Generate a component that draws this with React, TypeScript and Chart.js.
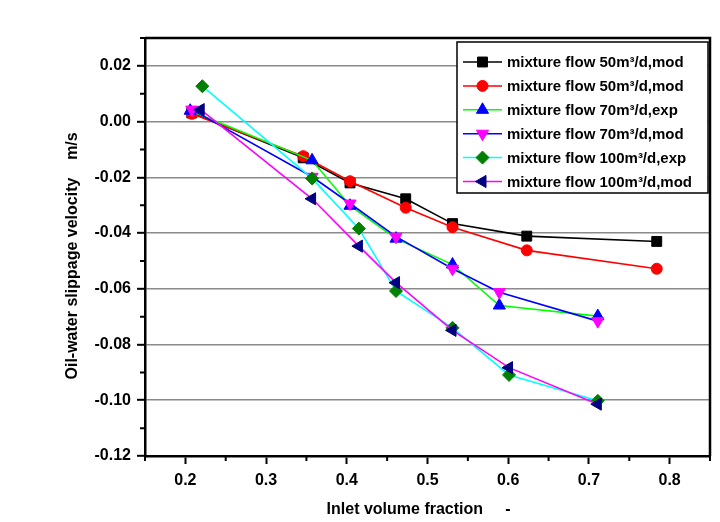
import React, { useEffect, useRef } from 'react';
import { Chart, registerables } from 'chart.js';

Chart.register(...registerables);

// ---- data ----
const seriesLabels = [
  'mixture flow 50m³/d,mod',
  'mixture flow 50m³/d,mod',
  'mixture flow 70m³/d,exp',
  'mixture flow 70m³/d,mod',
  'mixture flow 100m³/d,exp',
  'mixture flow 100m³/d,mod',
];

const x50a = [0.208, 0.346, 0.404, 0.473, 0.531, 0.623, 0.784];
const y50a = [0.0031, -0.013, -0.022, -0.0277, -0.0366, -0.0411, -0.043];
const x50b = [0.208, 0.346, 0.404, 0.473, 0.531, 0.623, 0.784];
const y50b = [0.0028, -0.0124, -0.0214, -0.0309, -0.0379, -0.0462, -0.0528];
const x70exp = [0.206, 0.357, 0.404, 0.461, 0.531, 0.589, 0.711];
const y70exp = [0.0039, -0.0139, -0.0302, -0.042, -0.0513, -0.066, -0.0698];
const x70mod = [0.208, 0.357, 0.404, 0.461, 0.531, 0.589, 0.711];
const y70mod = [0.0043, -0.0198, -0.0294, -0.0413, -0.0528, -0.0612, -0.0716];
const x100exp = [0.221, 0.357, 0.415, 0.461, 0.531, 0.601, 0.711];
const y100exp = [0.0127, -0.0204, -0.0384, -0.0608, -0.074, -0.0909, -0.1002];
const x100mod = [0.219, 0.357, 0.415, 0.461, 0.531, 0.601, 0.711];
const y100mod = [0.0043, -0.0277, -0.0447, -0.0578, -0.0749, -0.0883, -0.1014];

const xMajorTicks = [0.2, 0.3, 0.4, 0.5, 0.6, 0.7, 0.8];
const xMinorTicks = [0.15, 0.25, 0.35, 0.45, 0.55, 0.65, 0.75, 0.85];
const yMajorTicks = [0.02, 0.0, -0.02, -0.04, -0.06, -0.08, -0.1, -0.12];
const yMinorTicks = [0.03, 0.01, -0.01, -0.03, -0.05, -0.07, -0.09, -0.11];

// ---- styles ----
const FONT = '"Liberation Sans", Arial, sans-serif';
const seriesStyles = [
  { line: '#000000', marker: '#000000', style: 'rect', rot: 0, r: 7 },
  { line: '#FF0000', marker: '#FF0000', style: 'circle', rot: 0, r: 5.5 },
  { line: '#00FF00', marker: '#0000FF', style: 'triangle', rot: 0, r: 7 },
  { line: '#0000FF', marker: '#FF00FF', style: 'triangle', rot: 180, r: 7 },
  { line: '#00FFFF', marker: '#008000', style: 'rectRot', rot: 0, r: 6.5 },
  { line: '#FF00FF', marker: '#000080', style: 'triangle', rot: 270, r: 7 },
];
const seriesX = [x50a, x50b, x70exp, x70mod, x100exp, x100mod];
const seriesY = [y50a, y50b, y70exp, y70mod, y100exp, y100mod];

const decor = {
  id: 'decor',
  afterDraw(chart: any) {
    const { ctx, chartArea: a, scales } = chart;
    const xs = scales.x;
    const ys = scales.y;
    ctx.save();
    // frame top/right
    ctx.strokeStyle = '#000';
    ctx.lineWidth = 2.5;
    ctx.beginPath();
    ctx.moveTo(a.left, a.top);
    ctx.lineTo(a.right, a.top);
    ctx.lineTo(a.right, a.bottom);
    ctx.stroke();
    // minor ticks
    ctx.lineWidth = 2;
    ctx.beginPath();
    xMinorTicks.forEach((v) => {
      const px = xs.getPixelForValue(v);
      ctx.moveTo(px, a.bottom);
      ctx.lineTo(px, a.bottom + 5);
    });
    yMinorTicks.forEach((v) => {
      const py = ys.getPixelForValue(v);
      ctx.moveTo(a.left, py);
      ctx.lineTo(a.left - 5, py);
    });
    ctx.stroke();

    // legend
    const bx = 457, by = 42, bw = 251, bh = 151;
    ctx.fillStyle = '#fff';
    ctx.fillRect(bx, by, bw, bh);
    ctx.strokeStyle = '#000';
    ctx.lineWidth = 1.5;
    ctx.strokeRect(bx, by, bw, bh);
    ctx.font = `bold 15px ${FONT}`;
    ctx.textBaseline = 'middle';
    ctx.textAlign = 'left';
    seriesLabels.forEach((lab, i) => {
      const s = seriesStyles[i];
      const y = 62 + i * 23.9;
      ctx.strokeStyle = s.line;
      ctx.lineWidth = 1.5;
      ctx.beginPath();
      ctx.moveTo(463, y);
      ctx.lineTo(502, y);
      ctx.stroke();
      ctx.fillStyle = s.marker;
      ctx.strokeStyle = s.marker;
      ctx.lineWidth = 1;
      (Chart as any).helpers
        ? null
        : null;
      drawMarker(ctx, s.style, s.r, s.rot, 482.5, y);
      ctx.fillStyle = '#000';
      ctx.fillText(lab, 507, y + 1);
    });
    ctx.restore();
  },
};

function drawMarker(ctx: CanvasRenderingContext2D, style: string, r: number, rotDeg: number, x: number, y: number) {
  const rad = (rotDeg * Math.PI) / 180;
  ctx.beginPath();
  if (style === 'circle') {
    ctx.arc(x, y, r, 0, Math.PI * 2);
  } else if (style === 'rect') {
    const s = r * Math.SQRT1_2;
    ctx.rect(x - s, y - s, 2 * s, 2 * s);
  } else if (style === 'rectRot') {
    ctx.moveTo(x, y - r);
    ctx.lineTo(x + r, y);
    ctx.lineTo(x, y + r);
    ctx.lineTo(x - r, y);
    ctx.closePath();
  } else if (style === 'triangle') {
    let a = rad;
    ctx.moveTo(x + Math.sin(a) * r, y - Math.cos(a) * r);
    a += (2 * Math.PI) / 3;
    ctx.lineTo(x + Math.sin(a) * r, y - Math.cos(a) * r);
    a += (2 * Math.PI) / 3;
    ctx.lineTo(x + Math.sin(a) * r, y - Math.cos(a) * r);
    ctx.closePath();
  }
  ctx.fill();
  ctx.stroke();
}

export default function App() {
  const ref = useRef<HTMLCanvasElement>(null);
  useEffect(() => {
    if (!ref.current) return;
    const datasets = seriesLabels.map((label, i) => {
      const s = seriesStyles[i];
      return {
        label,
        data: seriesX[i].map((x, j) => ({ x, y: seriesY[i][j] })),
        borderColor: s.line,
        backgroundColor: s.marker,
        pointBackgroundColor: s.marker,
        pointBorderColor: s.marker,
        pointBorderWidth: 1,
        pointStyle: s.style,
        pointRotation: s.rot,
        pointRadius: s.r,
        borderWidth: 1.6,
        showLine: true,
        tension: 0,
        fill: false,
        order: 5 - i,
      };
    });
    const chart = new Chart(ref.current, {
      type: 'line',
      data: { datasets } as any,
      plugins: [decor],
      options: {
        responsive: false,
        animation: false,
        events: [],
        layout: { padding: { left: 0, top: 38, right: 10, bottom: 0 } },
        plugins: { legend: { display: false }, tooltip: { enabled: false } },
        scales: {
          x: {
            type: 'linear',
            min: 0.15,
            max: 0.85,
            afterBuildTicks: (s: any) => {
              s.ticks = xMajorTicks.map((v) => ({ value: v }));
            },
            afterFit: (s: any) => {
              s.height = 66;
            },
            ticks: {
              autoSkip: false,
              maxRotation: 0,
              color: '#000',
              padding: 7,
              font: { family: FONT, size: 16, weight: 'bold' },
              callback: (v: any) => Number(v).toFixed(1),
            },
            grid: {
              drawOnChartArea: false,
              drawTicks: true,
              tickLength: 8,
              tickWidth: 2,
              tickColor: '#000',
            },
            border: { display: true, color: '#000', width: 2.5 },
            title: {
              display: true,
              text: 'Inlet volume fraction     -    ',
              color: '#000',
              font: { family: FONT, size: 16, weight: 'bold' },
              padding: { top: 0, bottom: 2.5 },
            },
          },
          y: {
            type: 'linear',
            min: -0.12,
            max: 0.03,
            afterBuildTicks: (s: any) => {
              s.ticks = yMajorTicks.map((v) => ({ value: v }));
            },
            afterFit: (s: any) => {
              s.width = 145;
            },
            ticks: {
              autoSkip: false,
              color: '#000',
              padding: 6,
              font: { family: FONT, size: 16, weight: 'bold' },
              callback: (v: any) => (Math.round(Number(v) * 100) / 100 + 0).toFixed(2),
            },
            grid: {
              drawOnChartArea: true,
              color: '#8a8a8a',
              lineWidth: 1.6,
              drawTicks: true,
              tickLength: 8,
              tickWidth: 2,
              tickColor: '#000',
            },
            border: { display: true, color: '#000', width: 2.5 },
            title: {
              display: true,
              text: 'Oil-water slippage velocity    m/s    ',
              color: '#000',
              font: { family: FONT, size: 16, weight: 'bold' },
              padding: { top: 63, bottom: 0 },
            },
          },
        },
      } as any,
    });
    return () => chart.destroy();
  }, []);
  return (
    <div style={{ position: 'absolute', left: 0, top: 0, width: 720, height: 522, background: '#fff' }}>
      <canvas ref={ref} width={720} height={522} style={{ width: 720, height: 522 }} />
    </div>
  );
}
